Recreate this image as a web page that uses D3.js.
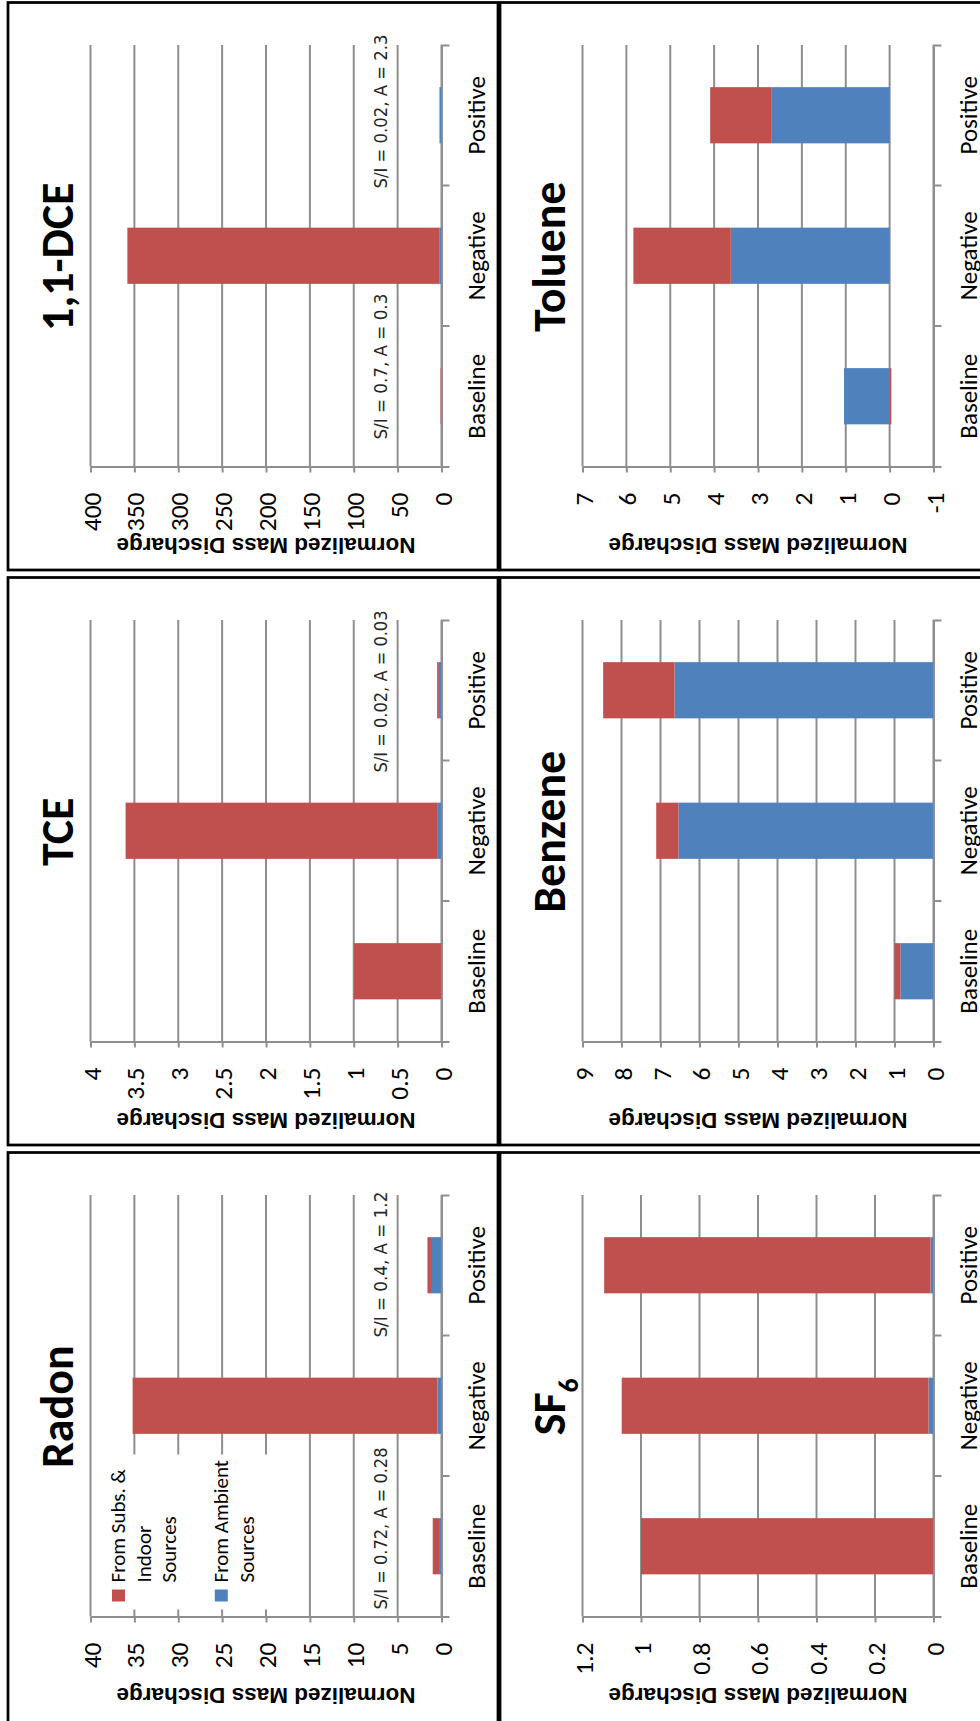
<!DOCTYPE html>
<html>
<head>
<meta charset="utf-8">
<script src="https://cdn.jsdelivr.net/npm/d3@7"></script>
<style>
  body { margin: 0; background: #fff; }
  svg { display: block; }
</style>
</head>
<body>
<script>
// ---- data -------------------------------------------------------------
const categories = ["Baseline", "Negative", "Positive"];
const seriesKeys = ["ambient", "subs"];            // stacking order, nearest zero first
const legendLines = [["From Subs. &", "Indoor", "Sources"], ["From Ambient", "Sources"]];
const legendKeys = ["subs", "ambient"];

const radonSubs = [0.72, 34.75, 0.4];
const radonAmbient = [0.28, 0.45, 1.2];
const radonTicks = [0, 5, 10, 15, 20, 25, 30, 35, 40];

const tceSubs = [1.0, 3.55, 0.02];
const tceAmbient = [0.0, 0.05, 0.03];
const tceTicks = [0, 0.5, 1, 1.5, 2, 2.5, 3, 3.5, 4];

const dceSubs = [0.7, 356, 0.02];
const dceAmbient = [0.3, 2.0, 2.3];
const dceTicks = [0, 50, 100, 150, 200, 250, 300, 350, 400];

const sf6Subs = [1.0, 1.049, 1.116];
const sf6Ambient = [0.0, 0.017, 0.01];
const sf6Ticks = [0, 0.2, 0.4, 0.6, 0.8, 1, 1.2];

const benzeneSubs = [0.15, 0.57, 1.83];
const benzeneAmbient = [0.85, 6.54, 6.64];
const benzeneTicks = [0, 1, 2, 3, 4, 5, 6, 7, 8, 9];

const tolueneSubs = [-0.04, 2.22, 1.39];
const tolueneAmbient = [1.04, 3.62, 2.70];
const tolueneTicks = [-1, 0, 1, 2, 3, 4, 5, 6, 7];

const annotations = [
  { panel: "Radon", text: "S/I = 0.72, A = 0.28" },
  { panel: "Radon", text: "S/I = 0.4, A = 1.2" },
  { panel: "TCE", text: "S/I = 0.02, A = 0.03" },
  { panel: "1,1-DCE", text: "S/I = 0.7, A = 0.3" },
  { panel: "1,1-DCE", text: "S/I = 0.02, A = 2.3" }
];

// ---- layout -----------------------------------------------------------
const W = 980, H = 1721;
const colX = [8, 500];
const rowY = [2.5, 577.5, 1152.5];
const panelW = 490, panelH = 567.5;
const plotL = 82.5, plotR = 433.5, plotT = 42.5, plotB = 464;

// bottom end of each note along the category direction
const annotationBottom = [457, 185, 195, 437, 186];

const colors = { subs: "#C0504D", ambient: "#4F81BD" };
const gridColor = "#8E8E8E";
const labelFont = "Carlito, Calibri, Lato, sans-serif";
const axisTitleFont = "'Liberation Sans', Arial, sans-serif";
const noteFont = "'DejaVu Sans', sans-serif";

const panels = [
  { name: "1,1-DCE", col: 0, row: 0, subs: dceSubs, ambient: dceAmbient, ticks: dceTicks },
  { name: "TCE", col: 0, row: 1, subs: tceSubs, ambient: tceAmbient, ticks: tceTicks },
  { name: "Radon", col: 0, row: 2, subs: radonSubs, ambient: radonAmbient, ticks: radonTicks, legend: true },
  { name: "Toluene", col: 1, row: 0, subs: tolueneSubs, ambient: tolueneAmbient, ticks: tolueneTicks },
  { name: "Benzene", col: 1, row: 1, subs: benzeneSubs, ambient: benzeneAmbient, ticks: benzeneTicks },
  { name: "SF6", sub: "6", col: 1, row: 2, subs: sf6Subs, ambient: sf6Ambient, ticks: sf6Ticks }
];

const svg = d3.select("body").append("svg")
  .attr("width", W).attr("height", H)
  .attr("viewBox", `0 0 ${W} ${H}`);

svg.append("rect").attr("width", W).attr("height", H).attr("fill", "#fff");

panels.forEach(p => drawPanel(p));

function drawPanel(p) {
  const g = svg.append("g")
    .attr("transform", `translate(${colX[p.col]},${rowY[p.row]})`);

  // panel frame
  g.append("rect")
    .attr("width", panelW).attr("height", p.row === 2 ? panelH + 10 : panelH)
    .attr("fill", "#fff").attr("stroke", "#000").attr("stroke-width", 2.75);

  const lo = p.ticks[0], hi = p.ticks[p.ticks.length - 1];
  const x = d3.scaleLinear().domain([lo, hi]).range([plotR, plotL]);
  const y = d3.scaleBand().domain(categories).range([plotB, plotT])
    .paddingInner(0.6).paddingOuter(0.3);

  // value gridlines
  g.append("g").selectAll("line").data(p.ticks).join("line")
    .attr("x1", d => x(d)).attr("x2", d => x(d))
    .attr("y1", plotT).attr("y2", plotB)
    .attr("stroke", gridColor).attr("stroke-width", 2);

  // stacked bars
  const rows = categories.map((c, i) => ({ category: c, subs: p.subs[i], ambient: p.ambient[i] }));
  const layers = d3.stack().keys(seriesKeys).offset(d3.stackOffsetDiverging)(rows);
  g.append("g").selectAll("g").data(layers).join("g")
    .attr("fill", d => colors[d.key])
    .selectAll("rect").data(d => d).join("rect")
    .attr("x", d => x(Math.max(d[0], d[1])))
    .attr("width", d => Math.abs(x(d[0]) - x(d[1])))
    .attr("y", d => y(d.data.category))
    .attr("height", y.bandwidth());

  // value axis (drawn along the bottom, labels turned)
  const valueAxis = d3.axisBottom(x).tickValues(p.ticks).tickSize(6).tickSizeOuter(0)
    .tickFormat(d => String(d));
  const va = g.append("g").attr("transform", `translate(0,${plotB})`).call(valueAxis)
    .attr("font-family", labelFont).attr("font-size", 25.5);
  va.select(".domain").attr("stroke", gridColor).attr("stroke-width", 2);
  va.selectAll(".tick line").attr("stroke", gridColor).attr("stroke-width", 2);
  va.selectAll(".tick text")
    .attr("x", null).attr("y", null).attr("dy", null)
    .attr("transform", "translate(1,26) rotate(-90)")
    .attr("text-anchor", "end")
    .attr("dominant-baseline", "central")
    .attr("fill", "#000");

  // category axis at the minimum value
  const catAxis = d3.axisRight(y).tickSize(0).tickSizeOuter(8).tickPadding(0);
  const ca = g.append("g").attr("transform", `translate(${x(lo)},0)`).call(catAxis)
    .attr("font-family", labelFont).attr("font-size", 25);
  ca.select(".domain").attr("stroke", gridColor).attr("stroke-width", 2).attr("fill", "none");
  ca.selectAll(".tick text")
    .attr("x", null).attr("dy", null)
    .attr("transform", "translate(43.5,0) rotate(-90)")
    .attr("text-anchor", "middle")
    .attr("fill", "#000");
  // divider ticks between categories
  const step = y.step();
  ca.append("g").selectAll("line").data([1, 2]).join("line")
    .attr("x1", 0).attr("x2", 8)
    .attr("y1", i => plotT + i * step).attr("y2", i => plotT + i * step)
    .attr("stroke", gridColor).attr("stroke-width", 2);

  // axis title, upside down below the tick labels
  g.append("text")
    .attr("transform", `translate(${(plotL + plotR) / 2},535) rotate(180)`)
    .attr("text-anchor", "middle")
    .attr("font-family", axisTitleFont).attr("font-weight", 700).attr("font-size", 22.5)
    .attr("fill", "#000")
    .text("Normalized Mass Discharge");

  // chart title
  const t = g.append("text")
    .attr("transform", `translate(65,${(plotT + plotB) / 2 + 1}) rotate(-90)`)
    .attr("text-anchor", "middle")
    .attr("font-family", labelFont).attr("font-weight", 700).attr("font-size", 46)
    .attr("fill", "#000");
  if (p.sub) {
    t.append("tspan").text(p.name.slice(0, -p.sub.length));
    t.append("tspan").attr("font-size", 28).attr("dy", 13).text(p.sub);
  } else {
    t.text(p.name);
  }

  if (p.legend) drawLegend(g, x);

  // S/I and A notes
  annotations.forEach((a, i) => {
    if (a.panel !== p.name) return;
    g.append("text")
      .attr("transform", `translate(379,${annotationBottom[i]}) rotate(-90)`)
      .attr("text-anchor", "start")
      .attr("font-family", noteFont).attr("font-size", 18)
      .attr("fill", "#262626")
      .attr("textLength", a.text.length * 8.1)
      .attr("lengthAdjust", "spacingAndGlyphs")
      .text(a.text);
  });
}

function drawLegend(g) {
  const lineStep = 25.7, firstBase = 117, textBottom = 430;
  // legend box hides the gridlines behind it
  g.append("rect")
    .attr("x", 95).attr("y", 302).attr("width", 180).attr("height", 155)
    .attr("fill", "#fff");
  let slot = 0;
  legendLines.forEach((lines, e) => {
    const base0 = firstBase + slot * lineStep;
    g.append("rect")
      .attr("x", base0 - 13).attr("y", textBottom + 7)
      .attr("width", 13).attr("height", 12)
      .attr("fill", colors[legendKeys[e]]);
    lines.forEach((ln, k) => {
      g.append("text")
        .attr("transform", `translate(${base0 + k * lineStep},${textBottom}) rotate(-90)`)
        .attr("text-anchor", "start")
        .attr("font-family", labelFont).attr("font-size", 21)
        .attr("fill", "#000")
        .text(ln);
    });
    slot += lines.length + 1;
  });
}
</script>
</body>
</html>
